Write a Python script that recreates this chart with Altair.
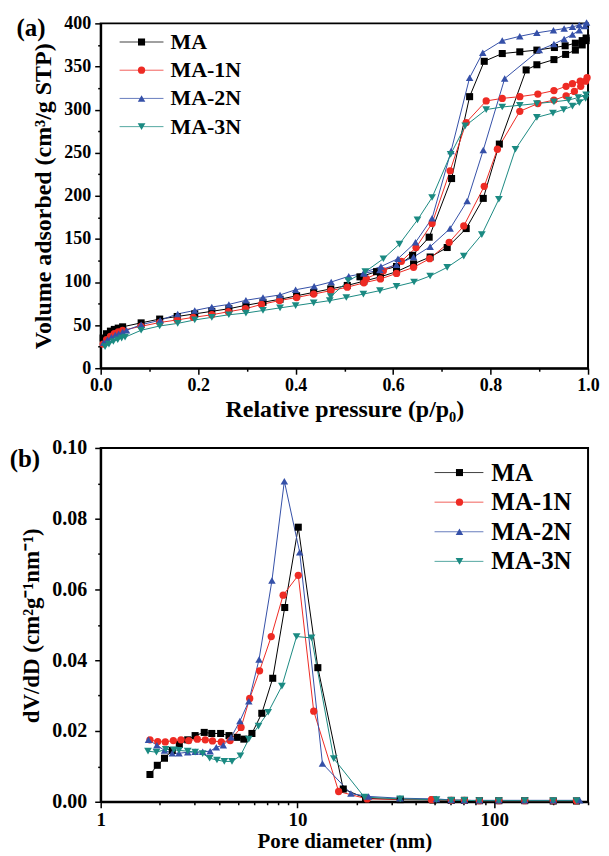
import altair as alt
import pandas as pd

# ---------------- data ----------------
series = ["MA", "MA-1N", "MA-2N", "MA-3N"]
colors = ["#000000", "#EE2B24", "#3550A8", "#1B8A82"]
shapes = ["square", "circle", "triangle-up", "triangle-down"]

# (a) N2 isotherms: adsorption and desorption branches
ma_ads_p = [0.005, 0.012, 0.02, 0.028, 0.036, 0.045, 0.083, 0.121, 0.157, 0.193, 0.228, 0.263, 0.298, 0.333, 0.368,
            0.402, 0.437, 0.472, 0.506, 0.54, 0.574, 0.607, 0.642, 0.676, 0.711, 0.75, 0.785, 0.818, 0.873, 0.895,
            0.93, 0.954, 0.974, 0.988, 0.996]
ma_ads_v = [35, 40, 43, 45, 46.5, 48, 52.6, 57, 60, 63, 66, 69, 73, 76.5, 80,
            84, 88, 92, 96, 101, 106, 112, 121, 129, 140, 162, 197, 260, 346, 352,
            358, 364, 369, 375, 380]
ma_des_p = [0.996, 0.988, 0.974, 0.953, 0.931, 0.895, 0.86, 0.824, 0.787, 0.757, 0.72, 0.674, 0.64, 0.607, 0.566, 0.532]
ma_des_v = [383, 380, 377, 374, 372, 369, 367, 365, 356, 315, 220, 152, 131, 118, 112, 106]

n1_ads_p = [0.005, 0.012, 0.02, 0.028, 0.036, 0.045, 0.083, 0.121, 0.157, 0.19, 0.228, 0.262, 0.297, 0.33, 0.367,
            0.402, 0.437, 0.472, 0.506, 0.54, 0.574, 0.607, 0.642, 0.675, 0.715, 0.745, 0.787, 0.814, 0.86, 0.897,
            0.93, 0.955, 0.972, 0.985, 0.995]
n1_ads_v = [28, 33, 37, 40, 42, 44, 48.6, 53, 56, 59, 62, 65.5, 69, 74, 78.5,
            82, 86, 90, 94, 99, 103.5, 110, 117, 127, 146, 165, 211, 254, 298, 307,
            311, 316, 321, 327, 333]
n1_des_p = [0.998, 0.984, 0.968, 0.955, 0.93, 0.897, 0.86, 0.824, 0.791, 0.75, 0.717, 0.68, 0.647, 0.617, 0.58, 0.545]
n1_des_v = [337, 333, 330, 327, 322, 318, 315, 313, 310, 285, 229, 168, 140, 124, 113, 104]

n2_ads_p = [0.006, 0.014, 0.022, 0.03, 0.037, 0.045, 0.053, 0.083, 0.122, 0.158, 0.193, 0.228, 0.263, 0.298, 0.333,
            0.368, 0.40, 0.438, 0.473, 0.509, 0.54, 0.573, 0.607, 0.642, 0.676, 0.717, 0.752, 0.785, 0.829, 0.9,
            0.93, 0.951, 0.968, 0.982, 0.994]
n2_ads_v = [29.5, 33, 36, 38.5, 40, 42, 44, 50.5, 55.6, 63, 67, 71, 74, 78.8, 82,
            85, 91, 95, 100, 106.6, 110, 114, 120, 129, 141, 162, 194, 253, 336, 369,
            376, 382, 387, 392, 397]
n2_des_p = [0.997, 0.982, 0.968, 0.951, 0.929, 0.895, 0.86, 0.824, 0.784, 0.757, 0.719, 0.68, 0.646, 0.61, 0.575, 0.54]
n2_des_v = [401, 398, 396, 394, 392, 389, 385, 380, 366, 337, 252, 174, 146, 127, 118, 111]

n3_ads_p = [0.009, 0.017, 0.026, 0.035, 0.043, 0.05, 0.083, 0.121, 0.158, 0.193, 0.228, 0.263, 0.298, 0.333, 0.368,
            0.40, 0.437, 0.47, 0.504, 0.539, 0.573, 0.607, 0.643, 0.676, 0.711, 0.745, 0.782, 0.817, 0.851, 0.895,
            0.928, 0.95, 0.968, 0.982, 0.995]
n3_ads_v = [25, 28, 31, 33, 35, 36, 44, 49, 52, 56, 59, 62, 64, 67, 70,
            72.6, 75.7, 78.4, 82, 86, 90, 95, 100, 107, 117, 130, 155, 196, 254, 291,
            296, 300, 304, 308, 313]
n3_des_p = [0.996, 0.98, 0.96, 0.93, 0.895, 0.86, 0.824, 0.791, 0.748, 0.718, 0.68, 0.65, 0.613, 0.58, 0.543, 0.508, 0.472]
n3_des_v = [317, 314, 311, 309, 307, 305, 303, 300, 281, 248, 198, 172, 144, 127, 112, 101.5, 83]

# (b) pore size distributions
ma_d = [1.78, 1.94, 2.11, 2.31, 2.51, 2.77, 3.02, 3.36, 3.67, 4.07, 4.49, 4.94, 5.34, 5.87, 6.59, 7.49, 8.62, 10.1,
        12.7, 17.1, 22.2, 33.3, 48.9, 60.5, 70.6, 84.1, 105.6, 143, 199.6, 262]
ma_dv = [0.0077, 0.0103, 0.0123, 0.0145, 0.0162, 0.0175, 0.0187, 0.0196, 0.0193, 0.0193, 0.0187, 0.0182, 0.0177,
         0.0193, 0.025, 0.0349, 0.0549, 0.0776, 0.0379, 0.0036, 0.001, 0.0006, 0.0005, 0.0004, 0.0004, 0.0003,
         0.0003, 0.0003, 0.0002, 0.0002]
n1_d = [1.78, 1.95, 2.13, 2.34, 2.56, 2.8, 3.1, 3.4, 3.7, 4.1, 4.55, 5.17, 5.72, 6.42, 7.36, 8.46, 10.1, 12.1, 16.2,
        22.6, 48, 60.5, 70.6, 84.1, 105.6, 143, 199.6, 262]
n1_dv = [0.0175, 0.017, 0.0169, 0.0173, 0.0175, 0.0173, 0.0177, 0.0175, 0.0172, 0.0169, 0.0173, 0.021, 0.0292,
         0.037, 0.0467, 0.0584, 0.064, 0.0256, 0.0029, 0.0008, 0.0006, 0.0004, 0.0004, 0.0003, 0.0003, 0.0003,
         0.0003, 0.0003]
n2_d = [1.75, 1.93, 2.11, 2.31, 2.5, 2.77, 3.02, 3.3, 3.6, 3.87, 4.2, 4.6, 5.1, 5.66, 6.38, 7.42, 8.58, 10.27, 13.4,
        18.7, 23, 33.2, 50.9, 60.5, 70.6, 84.1, 105.6, 143, 199.6, 272]
n2_dv = [0.0175, 0.016, 0.0145, 0.0137, 0.0137, 0.014, 0.0141, 0.0141, 0.0143, 0.0154, 0.016, 0.0182, 0.0228,
         0.0284, 0.0402, 0.0625, 0.0906, 0.0705, 0.0108, 0.0023, 0.0015, 0.001, 0.0008, 0.0005, 0.0004, 0.0004,
         0.0004, 0.0004, 0.0004, 0.0004]
n3_d = [1.74, 1.92, 2.14, 2.35, 2.5, 2.77, 3.02, 3.3, 3.58, 3.9, 4.25, 4.65, 5.13, 5.66, 6.34, 7.1, 8.34, 9.9, 11.8,
        15.3, 21.9, 33.3, 50.9, 60.5, 70.6, 84.1, 105.6, 143, 199.6, 262]
n3_dv = [0.0143, 0.014, 0.0148, 0.0147, 0.0145, 0.0143, 0.014, 0.0136, 0.0123, 0.0118, 0.0114, 0.0114, 0.013,
         0.0177, 0.0214, 0.0253, 0.0327, 0.0467, 0.0463, 0.0122, 0.0013, 0.0008, 0.0006, 0.0004, 0.0004, 0.0003,
         0.0003, 0.0003, 0.0003, 0.0003]

# ---------------- tables ----------------
iso = [(ma_ads_p + ma_des_p, ma_ads_v + ma_des_v), (n1_ads_p + n1_des_p, n1_ads_v + n1_des_v),
       (n2_ads_p + n2_des_p, n2_ads_v + n2_des_v), (n3_ads_p + n3_des_p, n3_ads_v + n3_des_v)]
rows = []
for s, (ps, vs) in zip(series, iso):
    for k, (p, v) in enumerate(zip(ps, vs)):
        rows.append({"series": s, "p": p, "v": v, "k": k})
df_top = pd.DataFrame(rows)

psd = [(ma_d, ma_dv), (n1_d, n1_dv), (n2_d, n2_dv), (n3_d, n3_dv)]
rows = []
for s, (ds, ys) in zip(series, psd):
    for k, (d, y) in enumerate(zip(ds, ys)):
        rows.append({"series": s, "d": d, "dv": y, "k": k})
df_bot = pd.DataFrame(rows)

FONT = "Liberation Serif"


def tick_cond(test, major=6, minor=3):
    return {"condition": {"test": test, "value": major}, "value": minor}


def make_scales(sizes):
    return (alt.Scale(domain=series, range=colors),
            alt.Scale(domain=series, range=shapes),
            alt.Scale(domain=series, range=sizes))


def legend_layers(x_line0, x_line1, x_mark, x_text, y0, dy, fsize, sizes):
    cs, ss, zs = make_scales(sizes)
    layers = []
    for i, s in enumerate(series):
        d = pd.DataFrame({"series": [s]})
        yy = y0 + dy * i
        base = alt.Chart(d)
        layers.append(base.mark_rule(strokeWidth=1, opacity=0.75).encode(
            x=alt.value(x_line0), x2=alt.value(x_line1), y=alt.value(yy),
            color=alt.Color("series:N", scale=cs, legend=None)))
        layers.append(base.mark_point(filled=True, opacity=1).encode(
            x=alt.value(x_mark), y=alt.value(yy),
            color=alt.Color("series:N", scale=cs, legend=None),
            shape=alt.Shape("series:N", scale=ss, legend=None),
            size=alt.Size("series:N", scale=zs, legend=None)))
        layers.append(base.mark_text(font=FONT, fontWeight="bold", fontSize=fsize, align="left",
                                     baseline="middle", color="black").encode(
            x=alt.value(x_text), y=alt.value(yy), text="series:N"))
    return layers


# ---------------- panel (a) ----------------
top_sizes = [50, 60, 75, 75]
cs, ss, zs = make_scales(top_sizes)
x_top = alt.X("p:Q", scale=alt.Scale(domain=[0, 1], nice=False, zero=False),
              axis=alt.Axis(values=[round(i * 0.1, 1) for i in range(11)],
                            labelExpr="round(datum.value*10) % 2 == 0 ? format(datum.value, '.1f') : ''",
                            tickSize=tick_cond("round(datum.value*10) % 2 == 0"),
                            labelFlush=False, labelOverlap=False, labelFontSize=18, labelPadding=2,
                            title="Relative pressure (p/p₀)", titleFontSize=24,
                            titleY=48, titleBaseline="alphabetic"))
y_top = alt.Y("v:Q", scale=alt.Scale(domain=[0, 400], nice=False),
              axis=alt.Axis(values=list(range(0, 401, 25)),
                            labelExpr="datum.value % 50 == 0 ? format(datum.value, 'd') : ''",
                            tickSize=tick_cond("datum.value % 50 == 0"),
                            labelFlush=False, labelOverlap=False, labelFontSize=18, labelPadding=4,
                            title="Volume adsorbed (cm³/g STP)", titleFontSize=24,
                            titleX=-50, titleY=173, titleBaseline="alphabetic"))

base_top = alt.Chart(df_top)
top_lines = base_top.mark_line(strokeWidth=1).encode(
    x=x_top, y=y_top, color=alt.Color("series:N", scale=cs, legend=None), order="k:Q")
top_pts = base_top.mark_point(filled=True, opacity=1).encode(
    x=x_top, y=y_top, color=alt.Color("series:N", scale=cs, legend=None),
    shape=alt.Shape("series:N", scale=ss, legend=None),
    size=alt.Size("series:N", scale=zs, legend=None))
lab_a = alt.Chart(pd.DataFrame({"t": ["(a)"]})).mark_text(
    font=FONT, fontWeight="bold", fontSize=25, align="center", baseline="middle", color="black").encode(
    x=alt.value(-70), y=alt.value(5), text="t:N")

top = alt.layer(top_lines, top_pts, lab_a,
                *legend_layers(19, 63, 41, 70, 18.7, 28.3, 22, top_sizes)).properties(width=489, height=346)

# ---------------- panel (b) ----------------
bot_sizes = [60, 64, 100, 100]
cs2, ss2, zs2 = make_scales(bot_sizes)
log_vals = [1, 2, 3, 4, 5, 6, 7, 8, 9, 10, 20, 30, 40, 50, 60, 70, 80, 90, 100, 200, 300]
major_test = "datum.value == 1 || datum.value == 10 || datum.value == 100"
x_bot = alt.X("d:Q", scale=alt.Scale(type="log", domain=[1, 300], nice=False),
              axis=alt.Axis(values=log_vals,
                            labelExpr="(" + major_test + ") ? format(datum.value, 'd') : ''",
                            tickSize=tick_cond(major_test),
                            labelFlush=False, labelOverlap=False, labelFontSize=19, labelPadding=3,
                            title="Pore diameter (nm)", titleFontSize=21,
                            titleY=46, titleBaseline="alphabetic"))
y_bot = alt.Y("dv:Q", scale=alt.Scale(domain=[0, 0.1], nice=False),
              axis=alt.Axis(values=[i / 100 for i in range(11)],
                            labelExpr="round(datum.value*100) % 2 == 0 ? format(datum.value, '.2f') : ''",
                            tickSize=tick_cond("round(datum.value*100) % 2 == 0"),
                            labelFlush=False, labelOverlap=False, labelFontSize=20, labelPadding=8,
                            title="dV/dD (cm²g⁻¹nm⁻¹)", titleFontSize=23,
                            titleX=-62, titleY=178, titleBaseline="alphabetic"))

base_bot = alt.Chart(df_bot)
bot_lines = base_bot.mark_line(strokeWidth=1).encode(
    x=x_bot, y=y_bot, color=alt.Color("series:N", scale=cs2, legend=None), order="k:Q")
bot_pts = base_bot.mark_point(filled=True, opacity=1).encode(
    x=x_bot, y=y_bot, color=alt.Color("series:N", scale=cs2, legend=None),
    shape=alt.Shape("series:N", scale=ss2, legend=None),
    size=alt.Size("series:N", scale=zs2, legend=None))
lab_b = alt.Chart(pd.DataFrame({"t": ["(b)"]})).mark_text(
    font=FONT, fontWeight="bold", fontSize=25, align="center", baseline="middle", color="black").encode(
    x=alt.value(-76), y=alt.value(11), text="t:N")

bottom = alt.layer(bot_lines, bot_pts, lab_b,
                   *legend_layers(335, 384, 360, 392, 24.7, 29.7, 25, bot_sizes)).properties(width=489, height=355)

chart = alt.vconcat(top, bottom, spacing=15).properties(
    padding={"left": 0, "top": 4, "right": 0, "bottom": 0}, background="white"
).configure_view(stroke="black", strokeWidth=2).configure_axis(
    domainColor="black", domainWidth=2, tickColor="black", tickWidth=1.5,
    labelFont=FONT, labelFontWeight="bold", labelColor="black",
    titleFont=FONT, titleFontWeight="bold", titleColor="black", grid=False)

chart.save("out.html", embed_options={"renderer": "svg", "actions": False})
